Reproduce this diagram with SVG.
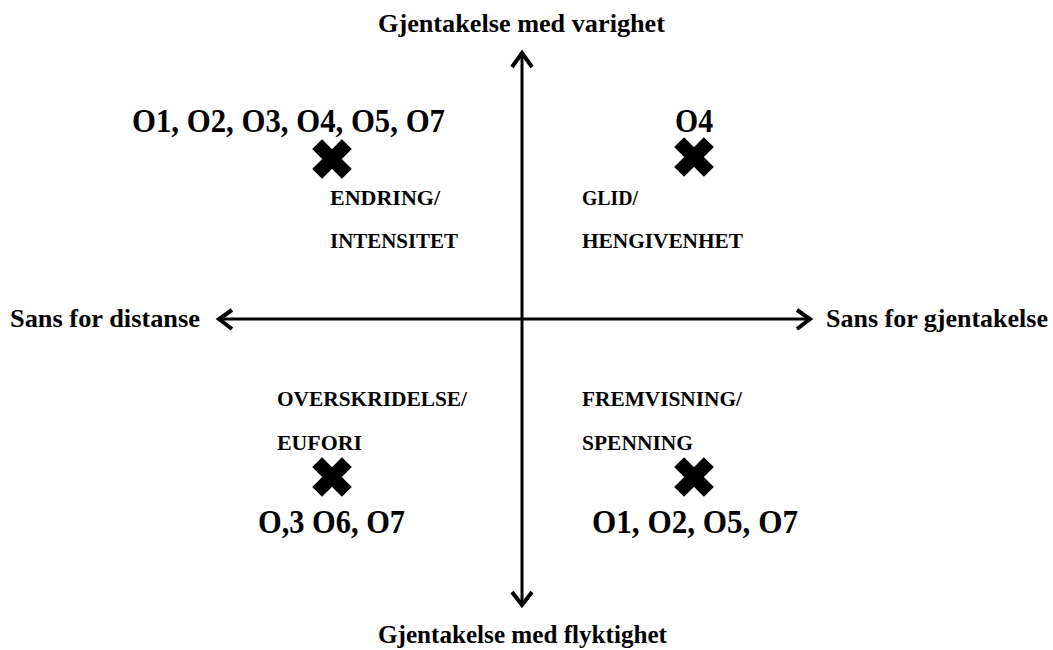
<svg xmlns="http://www.w3.org/2000/svg" width="1053" height="650" viewBox="0 0 1053 650">
  <style>
    .t { font-family: 'Liberation Serif', 'DejaVu Serif', serif; font-weight: bold; fill: #000; }
    .axis { font-size: 26px; }
    .big { font-size: 33px; }
    .small { font-size: 21px; }
    .line { stroke: #000; stroke-width: 3; fill: none; }
    .head { stroke: #000; stroke-width: 4; fill: none; stroke-linecap: butt; stroke-linejoin: miter; }
  </style>
  <defs>
    <g id="xmark">
      <rect x="-21" y="-7" width="42" height="14" transform="rotate(45)" fill="#000"/>
      <rect x="-21" y="-7" width="42" height="14" transform="rotate(-45)" fill="#000"/>
    </g>
  </defs>
  <rect width="1053" height="650" fill="#fff"/>

  <g id="connectors">
    <line class="line" x1="522" y1="53" x2="522" y2="605"/>
    <polyline class="head" points="512,67 522,53 532,67"/>
    <polyline class="head" points="512,592 522,605 532,592"/>
    <line class="line" x1="219" y1="319" x2="810" y2="319"/>
    <polyline class="head" points="232,310 219,319 232,329"/>
    <polyline class="head" points="797,310 810,319 797,329"/>
  </g>

  <g id="axis-top"><text class="t axis" x="378" y="32" textLength="287" lengthAdjust="spacingAndGlyphs">Gjentakelse med varighet</text></g>
  <g id="axis-bottom"><text class="t axis" x="378" y="643" textLength="289" lengthAdjust="spacingAndGlyphs">Gjentakelse med flyktighet</text></g>
  <g id="axis-left"><text class="t axis" x="10" y="327" textLength="190" lengthAdjust="spacingAndGlyphs">Sans for distanse</text></g>
  <g id="axis-right"><text class="t axis" x="826" y="327" textLength="222" lengthAdjust="spacingAndGlyphs">Sans for gjentakelse</text></g>

  <g id="q-top-left">
    <text class="t big" x="132" y="132" textLength="313" lengthAdjust="spacingAndGlyphs">O1, O2, O3, O4, O5, O7</text>
    <use href="#xmark" x="332" y="159"/>
    <text class="t small" x="330" y="205" textLength="110" lengthAdjust="spacingAndGlyphs">ENDRING/</text>
    <text class="t small" x="330" y="248" textLength="128" lengthAdjust="spacingAndGlyphs">INTENSITET</text>
  </g>

  <g id="q-top-right">
    <text class="t big" x="675" y="132" textLength="38" lengthAdjust="spacingAndGlyphs">O4</text>
    <use href="#xmark" x="694" y="157"/>
    <text class="t small" x="582" y="205" textLength="56" lengthAdjust="spacingAndGlyphs">GLID/</text>
    <text class="t small" x="582" y="248" textLength="161" lengthAdjust="spacingAndGlyphs">HENGIVENHET</text>
  </g>

  <g id="q-bottom-left">
    <text class="t small" x="277" y="406" textLength="190" lengthAdjust="spacingAndGlyphs">OVERSKRIDELSE/</text>
    <text class="t small" x="277" y="450" textLength="85" lengthAdjust="spacingAndGlyphs">EUFORI</text>
    <use href="#xmark" x="332" y="477"/>
    <text class="t big" x="258" y="533" textLength="147" lengthAdjust="spacingAndGlyphs">O,3 O6, O7</text>
  </g>

  <g id="q-bottom-right">
    <text class="t small" x="582" y="406" textLength="160" lengthAdjust="spacingAndGlyphs">FREMVISNING/</text>
    <text class="t small" x="582" y="450" textLength="111" lengthAdjust="spacingAndGlyphs">SPENNING</text>
    <use href="#xmark" x="694" y="477"/>
    <text class="t big" x="592" y="533" textLength="206" lengthAdjust="spacingAndGlyphs">O1, O2, O5, O7</text>
  </g>
</svg>
